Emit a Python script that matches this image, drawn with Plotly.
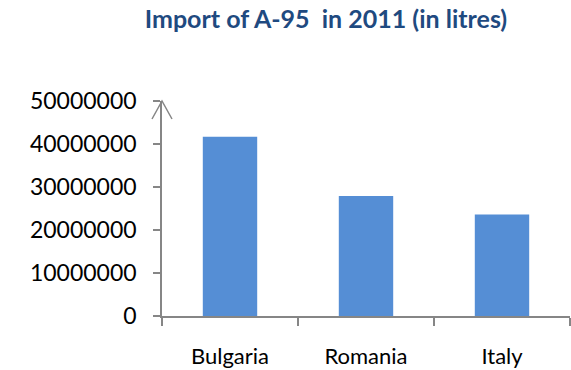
import plotly.graph_objects as go

# Imported volume of A-95 petrol per country, 2011 (litres)
countries = ["Bulgaria", "Romania", "Italy"]
volumes = [41700000, 27900000, 23600000]
y_ticks = [0, 10000000, 20000000, 30000000, 40000000, 50000000]
y_tick_labels = [str(v) for v in y_ticks]

axis_grey = "#868686"

fig = go.Figure(
    go.Bar(
        x=countries,
        y=volumes,
        marker=dict(color="#558ED5", line=dict(width=0)),
        width=0.4,
    )
)

fig.update_layout(
    width=571,
    height=370,
    margin=dict(l=162, r=1, t=101, b=54),
    paper_bgcolor="white",
    plot_bgcolor="white",
    showlegend=False,
    title=dict(
        text="<b>Import of A-95  in 2011 (in litres)</b>",
        font=dict(family="Lato", size=25, color="#1F4A80"),
        x=326 / 571,
        xanchor="center",
        xref="container",
        y=1 - 19 / 370,
        yanchor="middle",
        yref="container",
    ),
)

fig.update_xaxes(
    type="category",
    range=[-0.5, 2.5],
    showline=True,
    linecolor=axis_grey,
    linewidth=1.5,
    ticks="outside",
    tickson="boundaries",
    ticklen=8,
    tickwidth=1.5,
    tickcolor=axis_grey,
    ticklabelstandoff=20,
    tickfont=dict(family="Lato", size=22, color="black"),
    showgrid=False,
    zeroline=False,
)

fig.update_yaxes(
    range=[0, 50000000],
    tickvals=y_ticks,
    ticktext=y_tick_labels,
    showline=True,
    linecolor=axis_grey,
    linewidth=1.5,
    ticks="outside",
    ticklen=7,
    tickwidth=1.5,
    tickcolor=axis_grey,
    ticklabelstandoff=12,
    tickfont=dict(family="Lato", size=23, color="black"),
    showgrid=False,
    zeroline=False,
)

# Open arrowhead at the top of the value axis
fig.add_shape(
    type="path",
    xref="paper",
    yref="paper",
    xsizemode="pixel",
    ysizemode="pixel",
    xanchor=0,
    yanchor=1,
    path="M-10,-18 L0,0 L10,-18",
    line=dict(color=axis_grey, width=1.5),
    layer="above",
)

fig.write_html("out.html")
